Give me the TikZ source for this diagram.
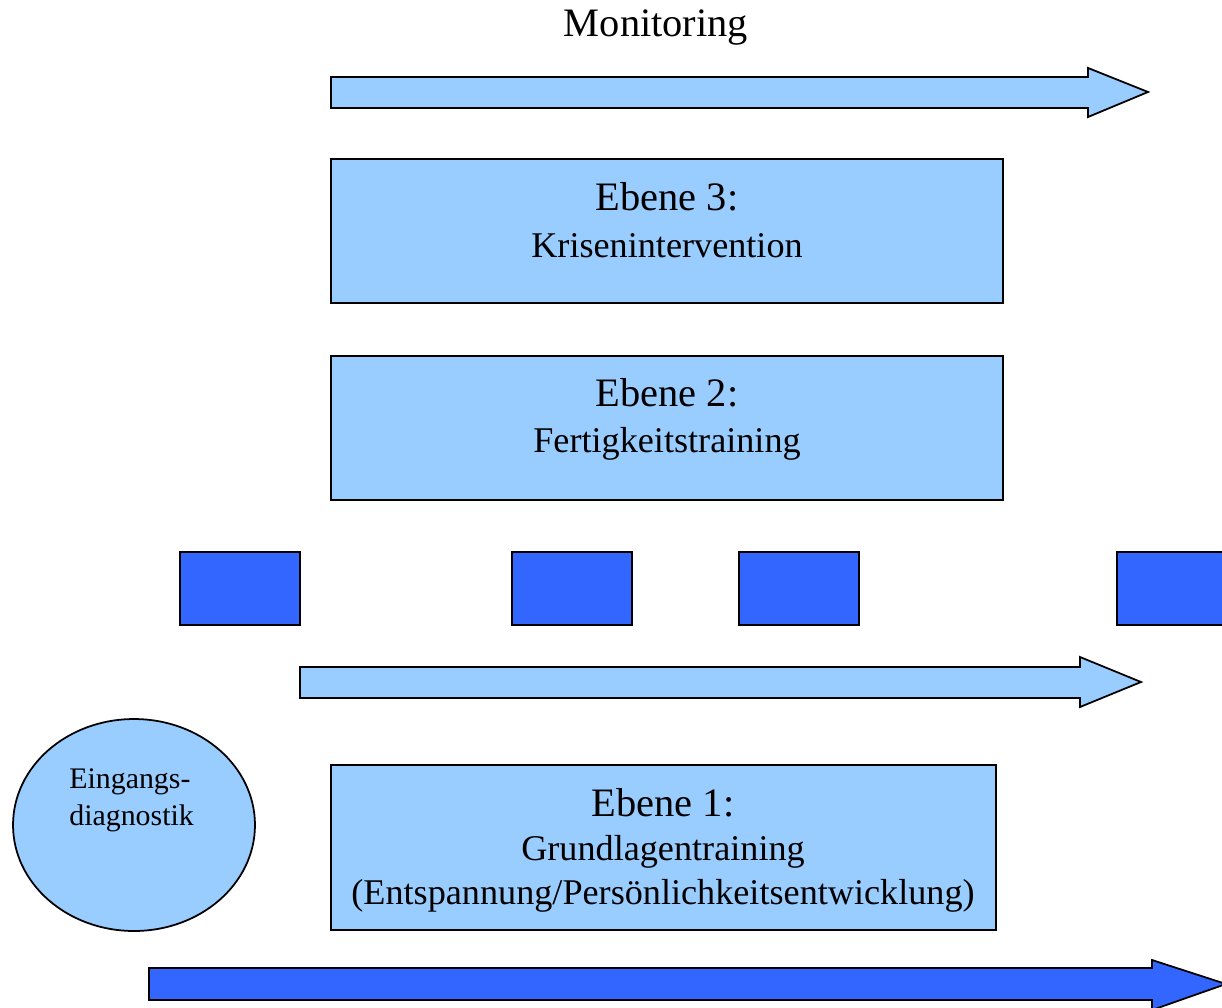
\documentclass[tikz,border=0pt]{standalone}
\usepackage{fontspec}
\setmainfont{Liberation Serif}
\usetikzlibrary{shapes.geometric}
\definecolor{lightblu}{HTML}{99CCFF}
\definecolor{darkblu}{HTML}{3366FF}
\begin{document}
\begin{tikzpicture}[x=0.02cm,y=-0.02cm,
  lbox/.style={draw=black,line width=1pt,fill=lightblu},
  dbox/.style={draw=black,line width=1pt,fill=darkblu},
  bigtxt/.style={font=\fontsize{23}{27}\selectfont},
  midtxt/.style={font=\fontsize{20.6}{24}\selectfont},
  smalltxt/.style={font=\fontsize{17}{21.5}\selectfont,align=left}]
\useasboundingbox (0,0) rectangle (1222,1007);
\clip (0,0) rectangle (1222,1007);
% Monitoring
\node[bigtxt] (mon) at (656,27) {Monitoring};
% top arrow
\draw[lbox,line join=miter] (331,77) -- (1088,77) -- (1088,68) -- (1148,92) -- (1088,117) -- (1088,108) -- (331,108) -- cycle;
% Ebene 3
\draw[lbox] (331,159) rectangle (1003,303);
\node[bigtxt] (e3) at (667,197) {Ebene 3:};
\node[midtxt] (k3) at (667,246) {Krisenintervention};
% Ebene 2
\draw[lbox] (331,356) rectangle (1003,500);
\node[bigtxt] (e2) at (667,393) {Ebene 2:};
\node[midtxt] (k2) at (667,444) {Fertigkeitstraining};
% dark squares
\draw[dbox] (180,552) rectangle (300,625);
\draw[dbox] (512,552) rectangle (632,625);
\draw[dbox] (739,552) rectangle (859,625);
\draw[dbox] (1117,552) rectangle (1240,625);
% middle arrow
\draw[lbox,line join=miter] (300,667) -- (1080,667) -- (1080,657) -- (1141,682) -- (1080,707) -- (1080,698) -- (300,698) -- cycle;
% ellipse
\node[ellipse,lbox,minimum width=4.84cm,minimum height=4.24cm,inner sep=0pt] (ell) at (134,825) {};
\node[smalltxt,anchor=north west,inner sep=0pt] (eing) at (69,768) {Eingangs-\\diagnostik};
% Ebene 1
\draw[lbox] (331,765) rectangle (996,930);
\node[bigtxt] (e1) at (663,803) {Ebene 1:};
\node[midtxt] (g1) at (663,852) {Grundlagentraining};
\node[midtxt] (p1) at (663,896) {(Entspannung/Pers\"onlichkeitsentwicklung)};
% bottom arrow
\draw[dbox,line join=miter] (149,968) -- (1152,968) -- (1152,960) -- (1226,984) -- (1152,1010) -- (1152,1000) -- (149,1000) -- cycle;
\end{tikzpicture}
\end{document}
